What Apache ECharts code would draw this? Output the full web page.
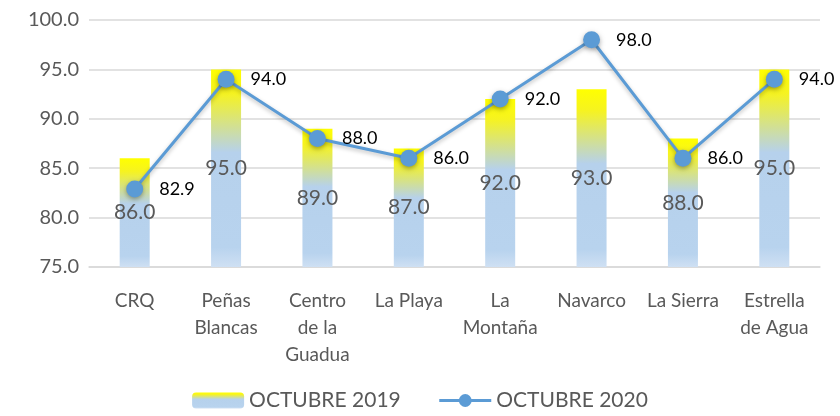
<!DOCTYPE html>
<html>
<head>
<meta charset="utf-8">
<script src="https://cdn.jsdelivr.net/npm/echarts@6/dist/echarts.min.js"></script>
<style>
  html, body { margin: 0; padding: 0; background: #fff; }
  #chart { width: 840px; height: 416px; }
</style>
</head>
<body>
<div id="chart"></div>
<script>
var categories = ['CRQ', 'Peñas\nBlancas', 'Centro\nde la\nGuadua', 'La Playa', 'La\nMontaña', 'Navarco', 'La Sierra', 'Estrella\nde Agua'];
var octubre2019 = [86.0, 95.0, 89.0, 87.0, 92.0, 93.0, 88.0, 95.0];
var octubre2020 = [82.9, 94.0, 88.0, 86.0, 92.0, 98.0, 86.0, 94.0];

var fontName = 'Lato';

var barGradient = new echarts.graphic.LinearGradient(0, 0, 0, 1, [
  { offset: 0, color: '#ffff00' },
  { offset: 0.12, color: '#f6f320' },
  { offset: 0.42, color: '#b6d1ec' },
  { offset: 0.9, color: '#b8d3ee' },
  { offset: 1, color: '#cfe0f3' }
]);

var myChart = echarts.init(document.getElementById('chart'));
var option = {
  animation: false,
  textStyle: { fontFamily: fontName },
  grid: { left: 89, right: 20, top: 20, bottom: 149 },
  legend: {
    top: 390,
    left: 'center',
    padding: 0,
    itemGap: 37,
    itemWidth: 52,
    itemHeight: 16,
    textStyle: { fontSize: 21, color: '#595959', fontFamily: fontName },
    data: [
      { name: 'OCTUBRE 2019' },
      { name: 'OCTUBRE 2020', lineStyle: { width: 3 } }
    ]
  },
  xAxis: {
    type: 'category',
    data: categories,
    axisLine: { lineStyle: { color: '#d9d9d9', width: 1.5 } },
    axisTick: { show: false },
    axisLabel: {
      color: '#595959',
      fontSize: 19,
      lineHeight: 27,
      margin: 20,
      interval: 0,
      fontFamily: fontName
    }
  },
  yAxis: {
    type: 'value',
    min: 75,
    max: 100,
    interval: 5,
    axisLine: { show: false },
    axisTick: { show: false },
    splitLine: { lineStyle: { color: '#d9d9d9', width: 1.5 } },
    axisLabel: {
      color: '#595959',
      fontSize: 20,
      margin: 10,
      fontFamily: fontName,
      formatter: function (v) { return v.toFixed(1); }
    }
  },
  series: [
    {
      name: 'OCTUBRE 2019',
      type: 'bar',
      barWidth: 30,
      data: octubre2019,
      itemStyle: { color: barGradient },
      label: {
        show: true,
        position: 'inside',
        color: '#595959',
        fontSize: 21,
        fontFamily: fontName,
        formatter: function (p) { return p.value.toFixed(1); }
      }
    },
    {
      name: 'OCTUBRE 2020',
      type: 'line',
      data: octubre2020,
      symbol: 'circle',
      symbolSize: 17,
      lineStyle: {
        color: '#5b9bd5',
        width: 3,
        shadowColor: 'rgba(0,0,0,0.25)',
        shadowBlur: 4,
        shadowOffsetY: 2
      },
      itemStyle: {
        color: '#5b9bd5',
        shadowColor: 'rgba(0,0,0,0.35)',
        shadowBlur: 5,
        shadowOffsetY: 2
      },
      label: {
        show: true,
        position: 'right',
        distance: 16,
        color: '#000',
        fontSize: 18,
        fontFamily: fontName,
        formatter: function (p) { return p.value.toFixed(1); }
      }
    }
  ]
};
myChart.setOption(option);
</script>
</body>
</html>
